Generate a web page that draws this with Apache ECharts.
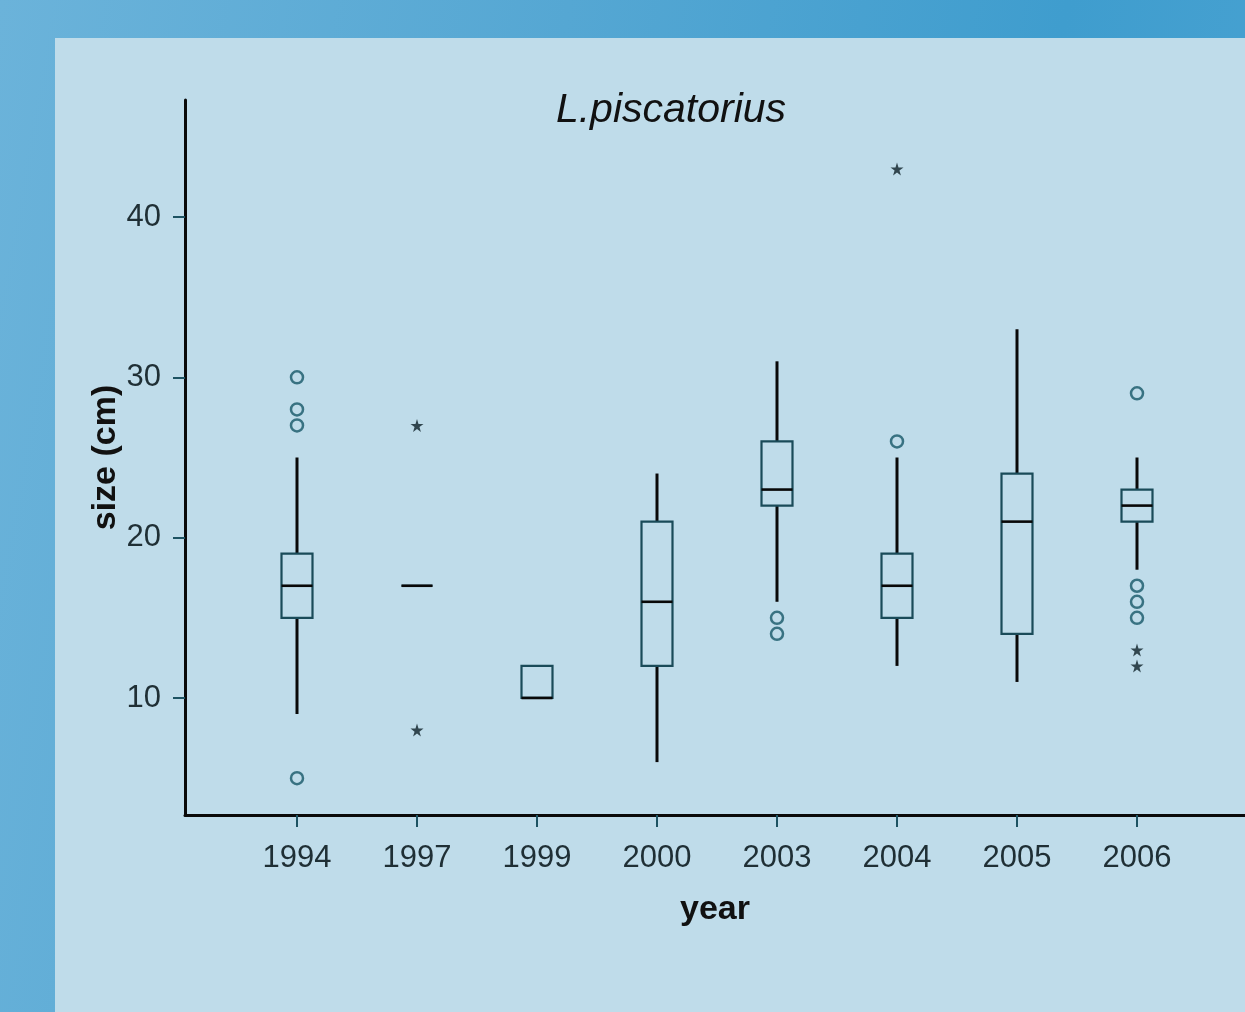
<!DOCTYPE html>
<html>
<head>
<meta charset="utf-8">
<script src="https://cdn.jsdelivr.net/npm/echarts@6/dist/echarts.min.js"></script>
<style>
	html, body { margin: 0; padding: 0; }
	body {
		width: 1245px; height: 1012px; overflow: hidden; position: relative;
		background: linear-gradient(100deg, #6bb3da 0%, #55a7d3 40%, #3f9dce 75%, #4aa3d2 100%);
	}
	#panel { position: absolute; left: 55px; top: 38px; right: 0; bottom: 0; background: #bfdcea; }
	#chart { position: absolute; left: 0; top: 0; width: 1245px; height: 1012px; }
</style>
</head>
<body>
<div id="panel"></div>
<div id="chart"></div>
<script>
// 年份
var years = ['1994', '1997', '1999', '2000', '2003', '2004', '2005', '2006'];
// 箱线图各统计量 (cm)
var whiskerLow  = [9, 17, 10, 6, 16, 12, 11, 18];
var q1          = [15, 17, 10, 12, 22, 15, 14, 21];
var median      = [17, 17, 10, 16, 23, 17, 21, 22];
var q3          = [19, 17, 12, 21, 26, 19, 24, 23];
var whiskerHigh = [25, 17, 12, 24, 31, 25, 33, 25];
// 离群值 [年份序号, 值]
var circleOutliers = [[0, 30], [0, 28], [0, 27], [0, 5], [4, 15], [4, 14], [5, 26], [7, 29], [7, 17], [7, 16], [7, 15]];
// 极端值
var starOutliers = [[1, 27], [1, 8], [5, 43], [7, 13], [7, 12]];
// 刻度
var yTicks = [10, 20, 30, 40];

var boxData = [];
for (var i = 0; i < years.length; i++) {
	boxData.push([i, whiskerLow[i], q1[i], median[i], q3[i], whiskerHigh[i]]);
}
var xTicks = years.map(function (y, i) { return i; });

var font = "'Liberation Sans', Arial, sans-serif";
var starPath = 'path://M50,0 L61,35 L98,35 L68,57 L79,91 L50,70 L21,91 L32,57 L2,35 L39,35 Z';

// 箱线图（无须线端帽）
function renderBox(params, api) {
	var x = api.value(0);
	var pLow = api.coord([x, api.value(1)]);
	var pQ1 = api.coord([x, api.value(2)]);
	var pMed = api.coord([x, api.value(3)]);
	var pQ3 = api.coord([x, api.value(4)]);
	var pHigh = api.coord([x, api.value(5)]);
	var half = 15.5;
	var cx = pMed[0];
	return {
		type: 'group',
		children: [
			{
				type: 'line',
				shape: { x1: cx, y1: pHigh[1], x2: cx, y2: pQ3[1] },
				style: { stroke: '#080808', lineWidth: 3 }
			},
			{
				type: 'line',
				shape: { x1: cx, y1: pQ1[1], x2: cx, y2: pLow[1] },
				style: { stroke: '#080808', lineWidth: 3 }
			},
			{
				type: 'rect',
				shape: { x: cx - half, y: pQ3[1], width: half * 2, height: pQ1[1] - pQ3[1] },
				style: { fill: 'none', stroke: '#1a4b59', lineWidth: 2.2 }
			},
			{
				type: 'line',
				shape: { x1: cx - half, y1: pMed[1], x2: cx + half, y2: pMed[1] },
				style: { stroke: '#080808', lineWidth: 2.6 }
			}
		]
	};
}

var option = {
	animation: false,
	backgroundColor: 'transparent',
	title: {
		text: 'L.piscatorius',
		left: 666,
		top: 85,
		textAlign: 'center',
		textStyle: {
			fontFamily: font,
			fontStyle: 'italic',
			fontWeight: 'normal',
			fontSize: 41,
			color: '#111'
		}
	},
	grid: {
		left: 185,
		right: 0,
		top: 100,
		bottom: 197
	},
	xAxis: {
		type: 'value',
		min: -112 / 120,
		max: 948 / 120,
		name: 'year',
		nameLocation: 'middle',
		nameGap: 78,
		nameMoveOverlap: false,
		nameTextStyle: {
			fontFamily: font,
			fontWeight: 'bold',
			fontSize: 34,
			color: '#111'
		},
		splitLine: { show: false },
		axisLine: { onZero: false, lineStyle: { color: '#0a0a0a', width: 3 } },
		axisTick: {
			customValues: xTicks,
			length: 12,
			lineStyle: { color: '#1d5363', width: 2 }
		},
		axisLabel: {
			customValues: xTicks,
			margin: 28,
			fontFamily: font,
			fontSize: 31,
			color: '#1f2f35',
			formatter: function (v) { return years[Math.round(v)]; }
		}
	},
	yAxis: {
		type: 'value',
		min: 2.7,
		max: 47.3,
		name: 'size (cm)',
		nameLocation: 'middle',
		nameGap: 62,
		nameMoveOverlap: false,
		nameTextStyle: {
			fontFamily: font,
			fontWeight: 'bold',
			fontSize: 34,
			color: '#111'
		},
		splitLine: { show: false },
		axisLine: { show: true, onZero: false, lineStyle: { color: '#0a0a0a', width: 3 } },
		axisTick: {
			show: true,
			customValues: yTicks,
			length: 12,
			lineStyle: { color: '#1d5363', width: 2 }
		},
		axisLabel: {
			customValues: yTicks,
			margin: 24,
			fontFamily: font,
			fontSize: 31,
			color: '#1f2f35'
		}
	},
	series: [
		{
			type: 'custom',
			renderItem: renderBox,
			encode: { x: 0, y: [1, 2, 3, 4, 5] },
			emphasis: { disabled: true },
			data: boxData
		},
		{
			type: 'scatter',
			symbol: 'circle',
			symbolSize: 12,
			itemStyle: { color: 'rgba(0,0,0,0)', borderColor: '#175868', borderWidth: 2.5 },
			emphasis: { disabled: true },
			data: circleOutliers
		},
		{
			type: 'scatter',
			symbol: starPath,
			symbolSize: 13,
			itemStyle: { color: '#0e2128' },
			emphasis: { disabled: true },
			data: starOutliers
		}
	]
};

var chart = echarts.init(document.getElementById('chart'));
chart.setOption(option);
</script>
</body>
</html>
